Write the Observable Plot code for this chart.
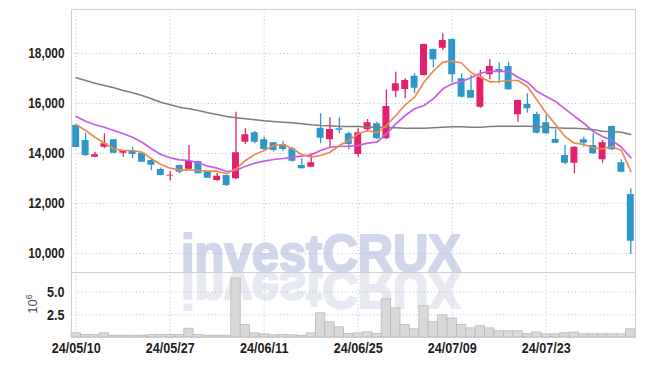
<!DOCTYPE html>
<html><head><meta charset="utf-8">
<script src="https://cdn.jsdelivr.net/npm/d3@7"></script>
<script src="https://cdn.jsdelivr.net/npm/@observablehq/plot@0.6"></script>
<style>
body{margin:0;background:#fff;}
#chart{position:relative;width:645px;height:366px;}
#chart svg{position:absolute;left:0;}
</style></head><body><div id="chart"></div>
<script>
const dates = ["24/05/10","24/05/13","24/05/14","24/05/16","24/05/17","24/05/20","24/05/21","24/05/22","24/05/23","24/05/24",
"24/05/27","24/05/28","24/05/29","24/05/30","24/05/31","24/06/03","24/06/04","24/06/05","24/06/07","24/06/10",
"24/06/11","24/06/12","24/06/13","24/06/14","24/06/17","24/06/18","24/06/19","24/06/20","24/06/21","24/06/24",
"24/06/25","24/06/26","24/06/27","24/06/28","24/07/01","24/07/02","24/07/03","24/07/04","24/07/05","24/07/08",
"24/07/09","24/07/10","24/07/11","24/07/12","24/07/15","24/07/16","24/07/17","24/07/18","24/07/19","24/07/22",
"24/07/23","24/07/24","24/07/25","24/07/26","24/07/29","24/07/30","24/07/31","24/08/01","24/08/02","24/08/05"];
const open = [15120,14520,13850,14250,14550,14010,14090,14010,13720,13360,
13100,13520,13370,13680,13280,12920,13120,12990,14450,14830,
14550,14430,14360,14190,13520,13450,15010,14550,14990,14790,
13960,14950,15190,14590,16490,16560,17090,17120,18160,18210,
18560,16990,16520,15850,17150,17360,17480,15550,15960,15560,
15230,14560,13920,13610,14550,14320,13750,15080,13630,12360];
const high = [15130,14800,14050,14790,14560,14110,14250,14020,13790,13420,
13280,13540,14320,13690,13290,13200,13130,15650,14990,14880,
14650,14440,14480,14250,13790,13990,15590,15430,15430,14850,
14990,15360,15250,16550,17250,16990,17190,18380,18180,18790,
18580,17190,17120,17320,17750,17630,17650,16140,16390,15650,
15520,14950,14320,14270,14650,14790,14520,15100,13750,12590];
const low = [14230,13880,13840,14190,14000,13850,13790,13640,13320,13110,
12900,13190,13320,13190,13010,12880,12680,12960,14360,14390,
14120,14050,14090,13650,13380,13440,14390,14250,14790,14150,
13850,14850,14560,14560,16230,16190,16390,17100,17430,18120,
16830,16220,16200,15810,16950,16790,16520,15250,15610,14790,
14760,14400,13550,13190,14250,13960,13610,14120,13230,9960];
const close = [14240,13920,13950,14390,14010,14090,13960,13650,13530,13120,
13130,13250,13680,13190,13010,13090,12720,14030,14750,14450,
14160,14120,14160,13690,13390,13630,14610,14960,14930,14360,
14830,15230,14590,15880,16790,16920,16610,18360,17750,18520,
17150,16250,16210,17050,17480,17280,16550,16120,15790,14810,
14790,14410,13610,14250,14410,13990,14430,14150,13250,10490];
const volume = [0.46,0.27,0.27,0.46,0.2,0.2,0.2,0.2,0.27,0.27,
0.27,0.27,0.97,0.27,0.2,0.2,0.2,6.5,1.37,0.46,
0.35,0.24,0.27,0.24,0.16,0.46,2.66,1.67,1.12,0.38,
0.46,0.57,0.38,4.2,3.2,1.37,0.9,3.43,1.67,2.44,
2.1,1.37,1.0,1.23,1.0,0.68,0.68,0.68,0.36,0.55,
0.35,0.35,0.47,0.55,0.35,0.35,0.35,0.35,0.35,0.9];
const ma5 = [15160,14920,14652,14412,14188,14120,14120,14052,13788,13560,
13412,13348,13348,13320,13292,13292,13188,13388,13720,13960,
14120,14320,14360,14188,13960,13852,13920,14052,14320,14520,
14788,14920,14828,15120,15520,15948,16252,16852,17300,17652,
17692,17620,17240,17060,16868,16880,16920,16920,16680,16148,
15612,15160,14680,14412,14360,14228,14188,14280,14120,13292];
const ma20 = [15480,15292,15148,15052,14920,14788,14652,14452,14188,13960,
13828,13748,13720,13628,13492,13412,13280,13320,13492,13612,
13692,13760,13800,13852,13892,13948,14120,14252,14280,14292,
14320,14412,14452,14788,15188,15520,15788,15920,16188,16588,
16788,16880,17028,17212,17280,17292,17280,17052,16852,16492,
16280,16080,15788,15492,15212,14880,14680,14520,14252,13828];
const ma60 = [17028,16920,16812,16720,16628,16520,16428,16320,16188,16052,
15948,15852,15788,15720,15628,15560,15480,15428,15388,15348,
15308,15280,15252,15228,15188,15148,15120,15108,15080,15080,
15080,15052,15052,15040,15028,15012,15012,15012,15028,15052,
15068,15068,15052,15052,15080,15092,15092,15092,15092,15080,
15052,15028,15012,15012,14988,14948,14892,14880,14852,14760];
const priceTicks = [10000,12000,14000,16000,18000];
const volumeTicks = [2.5,5.0];
const dateTicks = [0,10,20,30,40,50];

const UP = "#e2206b", DOWN = "#2e97c9";
const rows = dates.map((d,i)=>({i, date:d, open:open[i], high:high[i], low:low[i], close:close[i], volume:volume[i],
  ma5:ma5[i], ma20:ma20[i], ma60:ma60[i], color: close[i] >= open[i] ? UP : DOWN}));

const gridStyle = {stroke:"#b7bdd6", strokeOpacity:1, strokeDasharray:"1,2.6"};
const fontStyle = {fontFamily:"'Liberation Sans', Arial, sans-serif", fontWeight:"bold", fontSize:"15px", color:"#1e1e1e", background:"transparent"};

const price = Plot.plot({
  width:645, height:272, marginTop:9, marginBottom:0, marginLeft:71, marginRight:10,
  style: fontStyle,
  x: {type:"linear", domain:[-0.5, 59.5], axis:null},
  y: {domain:[9240, 19760]},
  marks: [
    Plot.gridY(priceTicks, gridStyle),
    Plot.gridX(dateTicks, gridStyle),
    Plot.frame({stroke:"#cfcfcf"}),
    Plot.ruleX(rows, {x:"i", y1:"low", y2:"high", stroke:"color", strokeWidth:1.3}),
    Plot.rect(rows, {x1:d=>d.i-0.37, x2:d=>d.i+0.37, y1:"open", y2:"close", fill:"color"}),
    Plot.lineY(rows, {x:"i", y:"ma60", stroke:"#7d7d7d", strokeWidth:1.6}),
    Plot.lineY(rows, {x:"i", y:"ma20", stroke:"#c95be6", strokeWidth:1.7}),
    Plot.lineY(rows, {x:"i", y:"ma5", stroke:"#ee8a4e", strokeWidth:1.7}),
    Plot.axisY(priceTicks, {tickSize:0, tickPadding:7, tickFormat:d3.format(","), label:null})
  ]
});

const vol = Plot.plot({
  width:645, height:94, marginTop:0, marginBottom:29, marginLeft:71, marginRight:10,
  style: fontStyle,
  x: {type:"linear", domain:[-0.5, 59.5]},
  y: {domain:[0, 7.15]},
  marks: [
    Plot.gridY(volumeTicks, gridStyle),
    Plot.gridX(dateTicks, gridStyle),
    Plot.rectY(rows, {x1:d=>d.i-0.5, x2:d=>d.i+0.5, y:"volume", fill:"#d9d9d9", stroke:"#b9b9b9", strokeWidth:0.8}),
    Plot.frame({stroke:"#cfcfcf"}),
    Plot.axisY(volumeTicks, {tickSize:0, tickPadding:7, tickFormat:d3.format(".1f"), label:null}),
    Plot.axisX(dateTicks, {tickSize:0, tickPadding:5, tickFormat:i=>dates[i], label:null})
  ]
});

const chart = document.getElementById("chart");
price.style.top = "0px";
vol.style.top = "272px";
chart.appendChild(price);
chart.appendChild(vol);

// condense all tick labels (the original uses a narrow face)
function condense(svg, k) {
  svg.querySelectorAll("text").forEach(function(el) {
    const w = el.getComputedTextLength();
    if (w > 0) {
      el.setAttribute("textLength", (w * k).toFixed(1));
      el.setAttribute("lengthAdjust", "spacingAndGlyphs");
    }
  });
}
condense(price, 0.79);
condense(vol, 0.84);

// watermark
function mark(svg, y, fill, transform) {
  const t = d3.select(svg).insert("text", "g")
    .attr("x", 181).attr("y", y)
    .attr("text-anchor", "start")
    .attr("font-family", "'Liberation Sans', Arial, sans-serif").attr("font-weight", "bold").attr("font-size", 52)
    .attr("fill", fill).attr("stroke", fill).attr("stroke-width", 2.2).attr("stroke-linejoin", "round")
    .attr("textLength", 280).attr("lengthAdjust", "spacingAndGlyphs")
    .text("investCRUX");
  if (transform) t.attr("transform", transform);
}
mark(price, 270.5, "#d1d7ea");
mark(vol, 0.5, "#e8eaf3", "scale(1,-1)");

// exponent label
const lab = d3.select(vol).append("text")
  .attr("transform", "translate(37,32) rotate(-90)")
  .attr("text-anchor", "middle")
  .attr("font-family", "'Liberation Sans', Arial, sans-serif").attr("font-weight", "normal").attr("font-size", 13)
  .attr("fill", "#555");
lab.append("tspan").text("10");
lab.append("tspan").attr("dy", -5).attr("font-size", 9).text("6");
</script></body></html>
